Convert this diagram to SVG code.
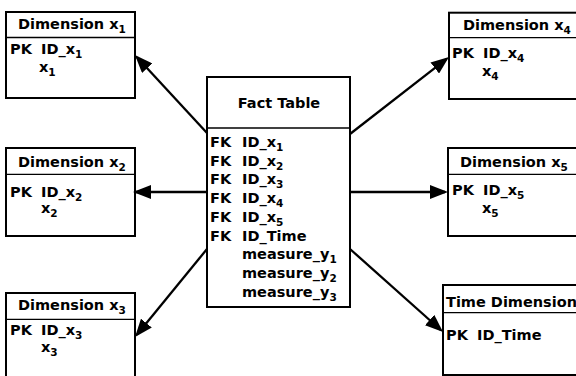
<svg xmlns="http://www.w3.org/2000/svg" width="576" height="376" viewBox="0 0 576 376">
  <style>
    .box { fill: #fff; stroke: #000; stroke-width: 2; }
    .div { stroke: #000; stroke-width: 1.3; }
    .t { font-family: "DejaVu Sans", Verdana, sans-serif; font-weight: bold; font-size: 14.5px; fill: #000; }
    .sub { font-size: 10.5px; }
    .link { stroke: #000; stroke-width: 2.3; fill: none; marker-end: url(#arrow); }
  </style>
  <defs>
    <marker id="arrow" viewBox="0 0 18 14" refX="15" refY="7" markerWidth="18" markerHeight="14" markerUnits="userSpaceOnUse" orient="auto">
      <path d="M0,0 L18,7 L0,14 z" fill="#000"/>
    </marker>
  </defs>
  <rect width="576" height="376" fill="#fff"/>

  <!-- fact table -->
  <g id="fact">
    <rect class="box" x="207" y="77" width="143" height="230"/>
    <line class="div" x1="207" y1="128" x2="350" y2="128"/>
    <text class="t" x="279" y="108" text-anchor="middle">Fact Table</text>
    <text class="t" x="210" y="147">FK</text><text class="t" x="242" y="147">ID_x<tspan class="sub" dy="4">1</tspan></text>
    <text class="t" x="210" y="165.7">FK</text><text class="t" x="242" y="165.7">ID_x<tspan class="sub" dy="4">2</tspan></text>
    <text class="t" x="210" y="184.4">FK</text><text class="t" x="242" y="184.4">ID_x<tspan class="sub" dy="4">3</tspan></text>
    <text class="t" x="210" y="203.1">FK</text><text class="t" x="242" y="203.1">ID_x<tspan class="sub" dy="4">4</tspan></text>
    <text class="t" x="210" y="221.8">FK</text><text class="t" x="242" y="221.8">ID_x<tspan class="sub" dy="4">5</tspan></text>
    <text class="t" x="210" y="240.5">FK</text><text class="t" x="242" y="240.5">ID_Time</text>
    <text class="t" x="242" y="259.2">measure_y<tspan class="sub" dy="4">1</tspan></text>
    <text class="t" x="242" y="277.9">measure_y<tspan class="sub" dy="4">2</tspan></text>
    <text class="t" x="242" y="296.6">measure_y<tspan class="sub" dy="4">3</tspan></text>
  </g>

  <!-- dimension x1 -->
  <g id="dim-x1">
    <rect class="box" x="6" y="12" width="129" height="86"/>
    <line class="div" x1="6" y1="37.5" x2="135" y2="37.5"/>
    <text class="t" x="18" y="28.5">Dimension x<tspan class="sub" dy="4">1</tspan></text>
    <text class="t" x="10" y="54">PK</text><text class="t" x="41" y="54">ID_x<tspan class="sub" dy="4">1</tspan></text>
    <text class="t" x="39" y="72">x<tspan class="sub" dy="4">1</tspan></text>
  </g>

  <!-- dimension x2 -->
  <g id="dim-x2">
    <rect class="box" x="6" y="148" width="129" height="88"/>
    <line class="div" x1="6" y1="174.3" x2="135" y2="174.3"/>
    <text class="t" x="18" y="166.5">Dimension x<tspan class="sub" dy="4">2</tspan></text>
    <text class="t" x="10" y="196.5">PK</text><text class="t" x="41" y="196.5">ID_x<tspan class="sub" dy="4">2</tspan></text>
    <text class="t" x="41" y="213">x<tspan class="sub" dy="4">2</tspan></text>
  </g>

  <!-- dimension x3 -->
  <g id="dim-x3">
    <rect class="box" x="6" y="293" width="129" height="90"/>
    <line class="div" x1="6" y1="319.3" x2="135" y2="319.3"/>
    <text class="t" x="18" y="310">Dimension x<tspan class="sub" dy="4">3</tspan></text>
    <text class="t" x="10" y="335">PK</text><text class="t" x="41" y="335">ID_x<tspan class="sub" dy="4">3</tspan></text>
    <text class="t" x="41" y="352">x<tspan class="sub" dy="4">3</tspan></text>
  </g>

  <!-- dimension x4 -->
  <g id="dim-x4">
    <rect class="box" x="449" y="12.7" width="135" height="86.3"/>
    <line class="div" x1="449" y1="37.7" x2="584" y2="37.7"/>
    <text class="t" x="463" y="30">Dimension x<tspan class="sub" dy="4">4</tspan></text>
    <text class="t" x="452" y="58">PK</text><text class="t" x="483" y="58">ID_x<tspan class="sub" dy="4">4</tspan></text>
    <text class="t" x="482" y="76">x<tspan class="sub" dy="4">4</tspan></text>
  </g>

  <!-- dimension x5 -->
  <g id="dim-x5">
    <rect class="box" x="448" y="148" width="136" height="88"/>
    <line class="div" x1="448" y1="174.3" x2="584" y2="174.3"/>
    <text class="t" x="460" y="166.5">Dimension x<tspan class="sub" dy="4">5</tspan></text>
    <text class="t" x="452" y="195">PK</text><text class="t" x="483" y="195">ID_x<tspan class="sub" dy="4">5</tspan></text>
    <text class="t" x="482" y="213">x<tspan class="sub" dy="4">5</tspan></text>
  </g>

  <!-- time dimension -->
  <g id="dim-time">
    <rect class="box" x="443" y="285" width="141" height="90"/>
    <line class="div" x1="443" y1="312.7" x2="584" y2="312.7"/>
    <text class="t" x="446" y="306.5">Time Dimension</text>
    <text class="t" x="446" y="339.5">PK</text><text class="t" x="477" y="339.5">ID_Time</text>
  </g>

  <!-- connectors from the fact table to each dimension -->
  <g id="connectors">
    <line class="link" x1="207" y1="133" x2="137" y2="57.2"/>
    <line class="link" x1="207" y1="192" x2="136" y2="192"/>
    <line class="link" x1="207" y1="249" x2="136.9" y2="334.7"/>
    <line class="link" x1="350" y1="134" x2="446.6" y2="58.8"/>
    <line class="link" x1="350" y1="192" x2="445" y2="192"/>
    <line class="link" x1="350" y1="249" x2="440.8" y2="330"/>
  </g>
</svg>
